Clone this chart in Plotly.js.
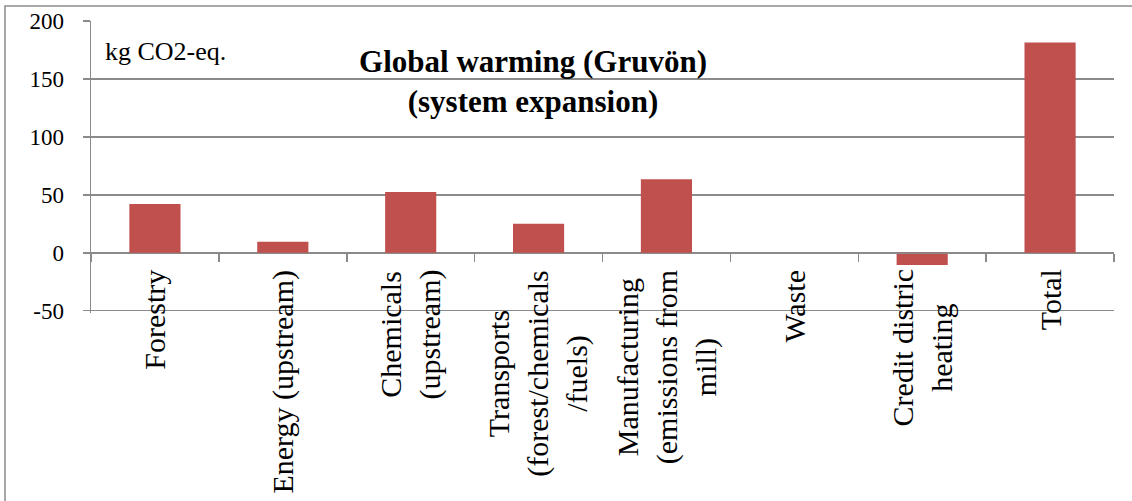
<!DOCTYPE html>
<html>
<head>
<meta charset="utf-8">
<script src="https://cdn.plot.ly/plotly-3.0.1.min.js"></script>
<style>html,body{margin:0;padding:0;background:#fff;}#chart{width:1132px;height:501px;}</style>
</head>
<body>
<div id="chart"></div>
<script>
const categories = ["Forestry", "Energy (upstream)", "Chemicals (upstream)", "Transports (forest/chemicals /fuels)", "Manufacturing (emissions from mill)", "Waste", "Credit distric heating", "Total"];
const categoryLabels = ["Forestry", "Energy (upstream)", "Chemicals<br>(upstream)", "Transports<br>(forest/chemicals<br>/fuels)", "Manufacturing<br>(emissions from<br>mill)", "Waste", "Credit distric<br>heating", "Total"];
const values = [42, 9.5, 52.5, 25, 63.5, 0, -10.5, 181.5];
const yTicks = [-50, 0, 50, 100, 150, 200];
const yRange = [-52, 200];
const titleText = "Global warming (Gruvön)<br>(system expansion)";
const unitText = "kg CO2-eq.";

const FONT = "Liberation Serif";
const GRID = "#8a8a8a";

const annotations = categories.map((c, i) => ({
  x: c, xref: "x", y: 0, yref: "y",
  text: categoryLabels[i], showarrow: false,
  textangle: -90, align: "center",
  xanchor: "center", yanchor: "top", yshift: -15,
  font: {family: FONT, size: 30, color: "#000"}
}));
annotations.push({
  x: 0.012, xref: "paper", y: 0.894, yref: "paper",
  xanchor: "left", yanchor: "middle", showarrow: false,
  text: unitText, font: {family: FONT, size: 26, color: "#000"}
});

const data = [{
  type: "bar", x: categories, y: values,
  marker: {color: "#C0504D", line: {width: 0}},
  hoverinfo: "x+y"
}];

const layout = {
  width: 1132, height: 501,
  margin: {l: 91, r: 18, t: 21, b: 188},
  paper_bgcolor: "#fff", plot_bgcolor: "#fff",
  showlegend: false,
  bargap: 0.6,
  font: {family: FONT},
  title: {
    text: titleText, x: 533/1132, xref: "container", xanchor: "center",
    y: 1 - 72/501, yref: "container", yanchor: "middle",
    font: {family: FONT, size: 31, color: "#000", weight: "bold"}
  },
  xaxis: {
    type: "category",
    anchor: "free", position: (0 - yRange[0]) / (yRange[1] - yRange[0]),
    showline: true, linecolor: GRID, linewidth: 1.5,
    ticks: "outside", tickson: "boundaries", ticklen: 8, tickcolor: GRID, tickwidth: 1.5,
    showticklabels: false, showgrid: false, zeroline: false,
    fixedrange: true
  },
  yaxis: {
    range: yRange, tickvals: yTicks, ticktext: yTicks.map(String),
    showline: true, linecolor: GRID, linewidth: 1.5,
    ticks: "outside", ticklen: 7, tickcolor: GRID, tickwidth: 1.5,
    showgrid: true, gridcolor: GRID, gridwidth: 1.5,
    zeroline: false,
    ticklabelstandoff: 14,
    tickfont: {family: FONT, size: 23, color: "#000"},
    fixedrange: true
  },
  annotations: annotations,
  shapes: [{
    type: "rect", xref: "paper", yref: "paper",
    x0: (5 - 91) / 1023, x1: 1.1, y0: -1, y1: 1 + (21 - 6) / 292,
    line: {color: "#8c8c8c", width: 1.5}, fillcolor: "rgba(0,0,0,0)", layer: "below"
  }]
};

Plotly.newPlot("chart", data, layout, {displayModeBar: false, staticPlot: true});
</script>
</body>
</html>
